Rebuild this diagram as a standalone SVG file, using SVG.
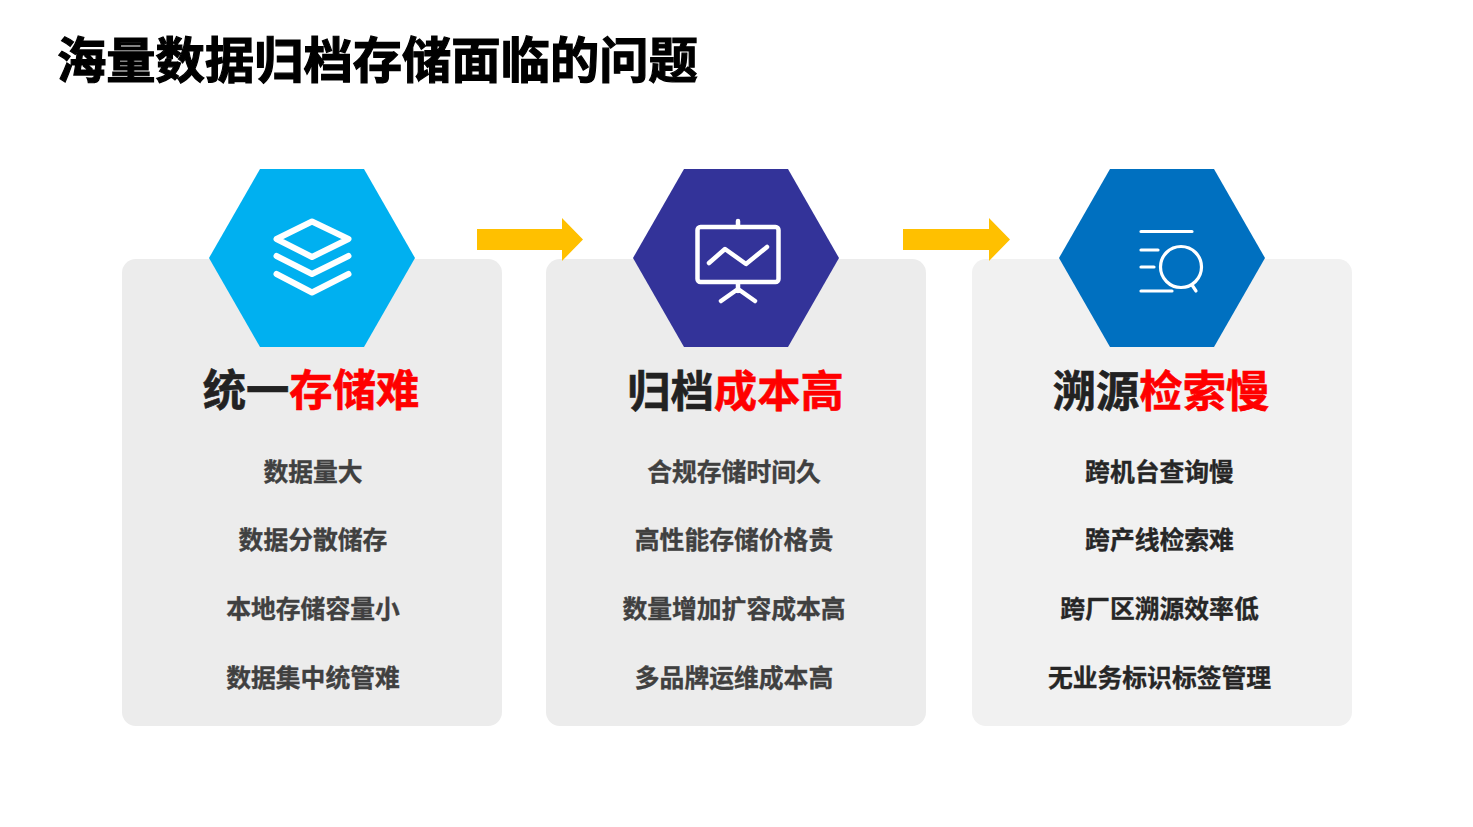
<svg xmlns="http://www.w3.org/2000/svg" width="1473" height="827" viewBox="0 0 1473 827">
<style>
text{font-family:"Noto Sans CJK SC","Noto Sans",sans-serif;font-weight:700}
.title{font-size:49.300px;fill:#000;stroke:#000;stroke-width:1.200}
.head{font-size:43.300px;fill:#222;text-anchor:middle;stroke:#222;stroke-width:.6}
.red{fill:#f00;stroke:#f00}
.item{font-size:24.800px;fill:#404040;text-anchor:middle;stroke:#404040;stroke-width:.35}
.dark{fill:#262626;stroke:#262626}
.card{fill:#ececec}
.ico{fill:none;stroke:#fff;stroke-linecap:round;stroke-linejoin:round}
.arrow{fill:#ffc000}
</style>
<rect width="1473" height="827" fill="#fff"/>
<text class="title" x="57" y="78">海量数据归档存储面临的问题</text>

<g id="node-storage">
<rect class="card" x="122" y="259" width="380" height="467" rx="14"/>
<polygon points="209,258 260,169 364,169 415,258 364,347 260,347" fill="#00b0f0"/>
<g class="ico" stroke-width="6">
<path d="M276.500 239 312 221.500 348.500 239 312 257Z"/>
<path d="M276.500 256 312 274 348.500 256"/>
<path d="M276.500 274 312 292.500 348.500 274"/>
</g>
<text class="head" x="311" y="406">统一<tspan class="red">存储难</tspan></text>
<text class="item" x="313" y="481">数据量大</text>
<text class="item" x="313" y="549">数据分散储存</text>
<text class="item" x="313" y="618">本地存储容量小</text>
<text class="item" x="313" y="687">数据集中统管难</text>
</g>

<g id="node-cost">
<rect class="card" x="546" y="259" width="380" height="467" rx="14"/>
<polygon points="633,258 684,169 788,169 839,258 788,347 684,347" fill="#333399"/>
<g class="ico" stroke-width="4.500">
<rect x="697.500" y="227" width="81" height="55" rx="3"/>
<path d="M738 221V227M738 284V291M738 289 721 301M738 289 755 301"/>
<path d="M709 263 725 249 746 264 767 247"/>
</g>
<text class="head" x="735.500" y="407">归档<tspan class="red">成本高</tspan></text>
<text class="item" x="734" y="481">合规存储时间久</text>
<text class="item" x="734" y="549">高性能存储价格贵</text>
<text class="item" x="734" y="618">数量增加扩容成本高</text>
<text class="item" x="734" y="687">多品牌运维成本高</text>
</g>

<g id="node-search">
<rect class="card" x="972" y="259" width="380" height="467" rx="14" style="fill:#f1f1f1"/>
<polygon points="1059,258 1110,169 1214,169 1265,258 1214,347 1110,347" fill="#0070c0"/>
<g class="ico" stroke-width="3.200">
<path d="M1141 231.500H1192M1141 250H1158M1141 267H1154M1141 291H1172"/>
<circle cx="1181" cy="267" r="20.500"/>
<path d="M1192 285 1196 291"/>
</g>
<text class="head" x="1161" y="407">溯源<tspan class="red">检索慢</tspan></text>
<text class="item dark" x="1159.500" y="481">跨机台查询慢</text>
<text class="item dark" x="1159.500" y="549">跨产线检索难</text>
<text class="item dark" x="1159.500" y="618">跨厂区溯源效率低</text>
<text class="item dark" x="1159.500" y="687">无业务标识标签管理</text>
</g>

<g id="connectors">
<polygon class="arrow" points="477,229 562,229 562,218 583,239.500 562,261 562,250 477,250"/>
<polygon class="arrow" points="903,229 989,229 989,218 1010,239.500 989,261 989,250 903,250"/>
</g>
</svg>
